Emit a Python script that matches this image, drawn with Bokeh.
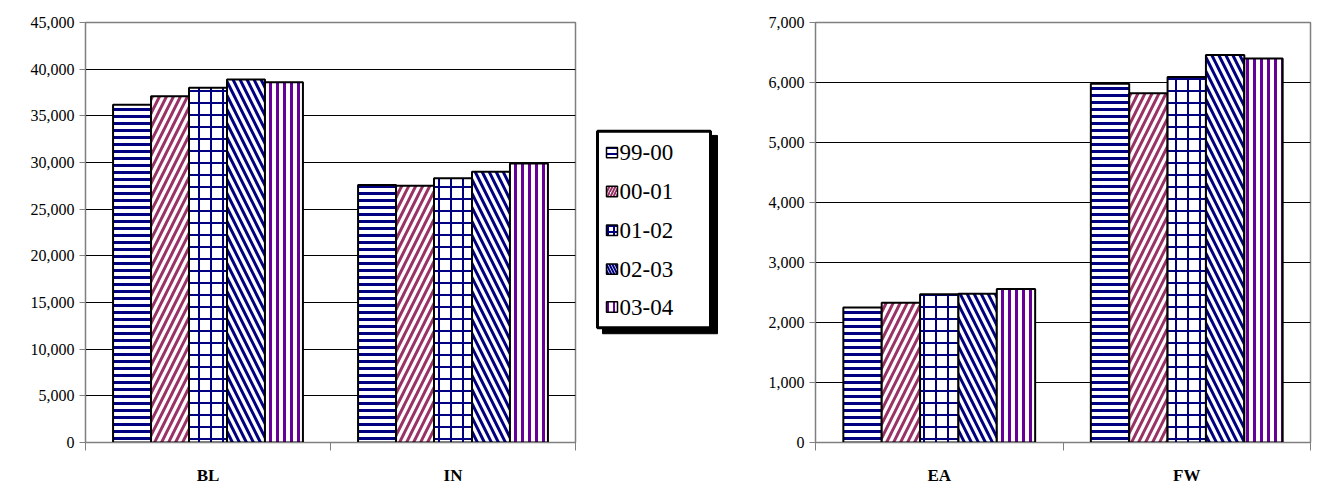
from bokeh.plotting import figure
from bokeh.models import FixedTicker, Range1d, NumeralTickFormatter
from bokeh.layouts import row
from bokeh.embed import file_html
from bokeh.resources import INLINE
from bokeh.core.properties import value

series = ["99-00", "00-01", "01-02", "02-03", "03-04"]
left_cats = ["BL", "IN"]
left_vals = {"99-00": [36200, 27600], "00-01": [37100, 27500], "01-02": [38000, 28300],
             "02-03": [38900, 29000], "03-04": [38600, 29900]}
right_cats = ["EA", "FW"]
right_vals = {"99-00": [2250, 5980], "00-01": [2330, 5820], "01-02": [2470, 6090],
              "02-03": [2480, 6460], "03-04": [2560, 6400]}
hatches = ["horizontal_line", "right_diagonal_line", "cross", "left_diagonal_line", "vertical_line"]
colors = ["#000080", "#993366", "#000080", "#000080", "#660099"]
scales = [7, 14, 12, 14, 7]
weights = [3, 3, 2, 3, 3]
FONT = "Liberation Serif"
H = 486

def chart(cats, vals, ymax, step, fw, bl, br):
    p = figure(frame_width=fw, frame_height=420, x_range=Range1d(0, len(cats)), y_range=Range1d(0, ymax),
               output_backend="svg", toolbar_location=None,
               min_border_left=bl, min_border_right=br, min_border_top=22, min_border_bottom=20)
    bw = 0.155
    for k, s in enumerate(series):
        xs = [i + 0.5 + (k - 2) * bw for i in range(len(cats))]
        p.vbar(x=xs, top=vals[s], width=bw, bottom=0, fill_color="white",
               hatch_pattern=hatches[k], hatch_color=colors[k], hatch_scale=scales[k],
               hatch_weight=weights[k], line_color="black", line_width=2)
    p.xaxis.ticker = FixedTicker(ticks=[i + 0.5 for i in range(len(cats))],
                                 minor_ticks=list(range(len(cats) + 1)))
    p.xaxis.major_label_overrides = {i + 0.5: c for i, c in enumerate(cats)}
    p.xaxis.major_tick_out = 0
    p.xaxis.major_tick_in = 0
    p.xaxis.minor_tick_out = 8
    p.xaxis.minor_tick_in = 0
    p.xaxis.major_label_standoff = 15
    p.xaxis.major_label_text_font = FONT
    p.xaxis.major_label_text_font_style = "bold"
    p.xaxis.major_label_text_font_size = "17px"
    p.yaxis.ticker = FixedTicker(ticks=list(range(0, ymax + 1, step)))
    p.yaxis.formatter = NumeralTickFormatter(format="0,0")
    p.yaxis.major_label_text_font = FONT
    p.yaxis.major_label_text_font_size = "16px"
    p.yaxis.minor_tick_line_color = None
    p.yaxis.major_tick_in = 0
    p.yaxis.major_tick_out = 6
    for ax in (p.xaxis, p.yaxis):
        ax.axis_line_color = "#808080"
        ax.major_tick_line_color = "#808080"
        ax.major_label_text_color = "black"
    p.xaxis.minor_tick_line_color = "#808080"
    p.xgrid.grid_line_color = None
    p.ygrid.grid_line_color = "black"
    p.ygrid.grid_line_width = 1
    p.outline_line_color = "#808080"
    p.outline_line_width = 1.5
    return p

left = chart(left_cats, left_vals, 45000, 5000, 490, 85, 5)
right = chart(right_cats, right_vals, 7000, 1000, 495, 90, 7)

leg = figure(width=145, height=H, x_range=Range1d(0, 145), y_range=Range1d(H, 0),
             output_backend="svg", toolbar_location=None, min_border=0)
leg.axis.visible = False
leg.grid.visible = False
leg.outline_line_color = None
leg.quad(left=[22], right=[137], top=[131], bottom=[361], fill_color="black", line_color="black")
leg.quad(left=[17], right=[130], top=[126], bottom=[354], fill_color="white", line_color="black", line_width=3)
rows = [151, 196, 241, 286, 330]
for k, s in enumerate(series):
    leg.quad(left=[26], right=[37], top=[rows[k] - 6], bottom=[rows[k] + 6], fill_color="white",
             hatch_pattern=hatches[k], hatch_color=colors[k], hatch_scale=6, hatch_weight=2,
             line_color="black", line_width=1.5)
leg.text(x=[39] * 5, y=rows, text=series, text_font=value(FONT), text_font_size="23px",
         text_baseline="middle", text_color="black")

layout = row(left, leg, right)
open("out.html", "w").write(file_html(layout, INLINE))
